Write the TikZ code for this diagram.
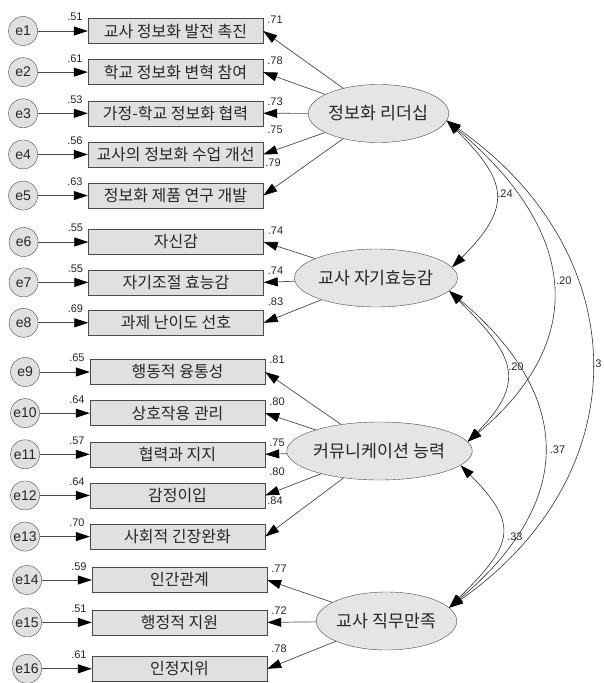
\documentclass[tikz,border=0pt]{standalone}
\usepackage{fontspec}
\setmainfont{Liberation Sans}
\newfontfamily\kr{Noto Sans CJK KR}
\usetikzlibrary{positioning, arrows.meta, shapes.geometric}
\definecolor{boxgray}{HTML}{E0E0E0}
\definecolor{linegray}{HTML}{4A4A4A}
\tikzset{
	>={Triangle[length=14pt,width=9pt,color=black]},
	every node/.style={text=black!85},
	obs/.style={draw=linegray, fill=boxgray, minimum width=175pt, minimum height=25pt, inner sep=0pt, font=\kr\fontsize{16}{18}\selectfont},
	lat/.style={ellipse, draw=linegray, fill=boxgray!85, minimum width=137pt, minimum height=58pt, inner sep=0pt, font=\kr\fontsize{17.3}{19}\selectfont},
	err/.style={circle, draw=linegray, fill=boxgray, minimum size=29pt, inner sep=0pt, font=\fontsize{14}{16}\selectfont},
	num/.style={inner sep=0pt, font=\fontsize{11}{12}\selectfont},
	load/.style={->, draw=linegray, line width=0.7pt},
	cov/.style={<->, draw=black!80, line width=0.6pt},
}

\begin{document}
\begin{tikzpicture}[x=1pt, y=-1pt]
	\useasboundingbox (0,0) rectangle (603,683);
	% observed variables
	\node[obs] (x1) at (175.5,31) {교사 정보화 발전 촉진};
	\node[obs, below=15.75pt of x1] (x2) {학교 정보화 변혁 참여};
	\node[obs, below=15.75pt of x2] (x3) {가정-학교 정보화 협력};
	\node[obs, below=15.75pt of x3] (x4) {교사의 정보화 수업 개선};
	\node[obs, below=15.75pt of x4] (x5) {정보화 제품 연구 개발};
	\node[obs] (x6) at (176,242) {자신감};
	\node[obs, below=15pt of x6] (x7) {자기조절 효능감};
	\node[obs, below=15pt of x7] (x8) {과제 난이도 선호};
	\node[obs] (x9) at (177.5,372) {행동적 융통성};
	\node[obs, below=15.75pt of x9] (x10) {상호작용 관리};
	\node[obs, below=15.75pt of x10] (x11) {협력과 지지};
	\node[obs, below=15.75pt of x11] (x12) {감정이입};
	\node[obs, below=15.75pt of x12] (x13) {사회적 긴장완화};
	\node[obs] (x14) at (179.5,580) {인간관계};
	\node[obs, below=17pt of x14] (x15) {행정적 지원};
	\node[obs, below=21pt of x15] (x16) {인정지위};
	
	% errors
	\node[err, left=50pt of x1] (e1) {e1};
	\node[err, left=50pt of x2] (e2) {e2};
	\node[err, left=50pt of x3] (e3) {e3};
	\node[err, left=50pt of x4] (e4) {e4};
	\node[err, left=50pt of x5] (e5) {e5};
	\node[err, left=50pt of x6] (e6) {e6};
	\node[err, left=50pt of x7] (e7) {e7};
	\node[err, left=50pt of x8] (e8) {e8};
	\node[err, left=50pt of x9] (e9) {e9};
	\node[err, left=50pt of x10] (e10) {e10};
	\node[err, left=50pt of x11] (e11) {e11};
	\node[err, left=50pt of x12] (e12) {e12};
	\node[err, left=50pt of x13] (e13) {e13};
	\node[err, left=50pt of x14] (e14) {e14};
	\node[err, left=50pt of x15] (e15) {e15};
	\node[err, left=50pt of x16] (e16) {e16};
	
	% latent variables
	\node[lat] (L1) at (378.5,113.5) {정보화 리더십};
	\node[lat] (L2) at (376,278) {교사 자기효능감};
	\node[lat] (L3) at (379.5,451) {커뮤니케이션 능력};
	\node[lat] (L4) at (386.5,621) {교사 직무만족};
	
	% squared multiple correlations
	\node[num, above left=-3pt and 5pt of x1.north west] (r1) {.51};
	\node[num, above left=-3pt and 5pt of x2.north west] (r2) {.61};
	\node[num, above left=-3pt and 5pt of x3.north west] (r3) {.53};
	\node[num, above left=-3pt and 5pt of x4.north west] (r4) {.56};
	\node[num, above left=-3pt and 5pt of x5.north west] (r5) {.63};
	\node[num, above left=-3pt and 5pt of x6.north west] (r6) {.55};
	\node[num, above left=-3pt and 5pt of x7.north west] (r7) {.55};
	\node[num, above left=-3pt and 5pt of x8.north west] (r8) {.69};
	\node[num, above left=-3pt and 5pt of x9.north west] (r9) {.65};
	\node[num, above left=-3pt and 5pt of x10.north west] (r10) {.64};
	\node[num, above left=-3pt and 5pt of x11.north west] (r11) {.57};
	\node[num, above left=-3pt and 5pt of x12.north west] (r12) {.64};
	\node[num, above left=-3pt and 5pt of x13.north west] (r13) {.70};
	\node[num, above left=-3pt and 5pt of x14.north west] (r14) {.59};
	\node[num, above left=-3pt and 5pt of x15.north west] (r15) {.51};
	\node[num, above left=-3pt and 5pt of x16.north west] (r16) {.61};
	
	% loadings
	\node[num, above right=-5pt and 4pt of x1.north east] (f1) {.71};
	\node[num, above right=-5pt and 4pt of x2.north east] (f2) {.78};
	\node[num, above right=-5pt and 4pt of x3.north east] (f3) {.73};
	\node[num, above right=8pt and 4pt of x4.north east] (f4) {.75};
	\node[num, above right=16.5pt and 2pt of x5.north east] (f5) {.79};
	\node[num, above right=-5pt and 4pt of x6.north east] (f6) {.74};
	\node[num, above right=-5pt and 4pt of x7.north east] (f7) {.74};
	\node[num, above right=4.5pt and 4pt of x8.north east] (f8) {.83};
	\node[num, above right=-5pt and 4pt of x9.north east] (f9) {.81};
	\node[num, above right=-5pt and 4pt of x10.north east] (f10) {.80};
	\node[num, above right=-5pt and 4pt of x11.north east] (f11) {.75};
	\node[num, above right=7pt and 4pt of x12.north east] (f12) {.80};
	\node[num, above right=19.5pt and 2pt of x13.north east] (f13) {.84};
	\node[num, above right=-5pt and 4pt of x14.north east] (f14) {.77};
	\node[num, above right=-5pt and 4pt of x15.north east] (f15) {.72};
	\node[num, above right=3.5pt and 4pt of x16.north east] (f16) {.78};
	
	\draw[load] (e1) -- (x1);
	\draw[load] (e2) -- (x2);
	\draw[load] (e3) -- (x3);
	\draw[load] (e4) -- (x4);
	\draw[load] (e5) -- (x5);
	\draw[load] (e6) -- (x6);
	\draw[load] (e7) -- (x7);
	\draw[load] (e8) -- (x8);
	\draw[load] (e9) -- (x9);
	\draw[load] (e10) -- (x10);
	\draw[load] (e11) -- (x11);
	\draw[load] (e12) -- (x12);
	\draw[load] (e13) -- (x13);
	\draw[load] (e14) -- (x14);
	\draw[load] (e15) -- (x15);
	\draw[load] (e16) -- (x16);
	
	\draw[load] (L1) -- (x1.east);
	\draw[load] (L1) -- (x2.east);
	\draw[load] (L1) -- (x3.east);
	\draw[load] (L1) -- (x4.east);
	\draw[load] (L1) -- (x5.east);
	\draw[load] (L2) -- (x6.east);
	\draw[load] (L2) -- (x7.east);
	\draw[load] (L2) -- (x8.east);
	\draw[load] (L3) -- (x9.east);
	\draw[load] (L3) -- (x10.east);
	\draw[load] (L3) -- (x11.east);
	\draw[load] (L3) -- (x12.east);
	\draw[load] (L3) -- (x13.east);
	\draw[load] (L4) -- (x14.east);
	\draw[load] (L4) -- (x15.east);
	\draw[load] (L4) -- (x16.east);
	
	% correlations
	\draw[cov] (L1.-6) to[out=-45, in=45, looseness=1.5] node[num, right=2pt] (c12) {.24} (L2.8);
	\draw[cov] (L2.-10) to[out=-45, in=45, looseness=1.48] node[num, right=3pt] (c23) {.20} (L3.6);
	\draw[cov] (L3.-10) to[out=-45, in=45, looseness=1.56] node[num, right=6pt] (c34) {.33} (L4.12);
	\draw[cov] (L1.-6) to[out=-40, in=40, looseness=1.31] node[num, right=4pt] (c13) {.20} (L3.6);
	\draw[cov] (L2.-10) to[out=-40, in=40, looseness=1.33] node[num, right=6pt] (c24) {.37} (L4.12);
	\draw[cov] (L1.-6) to[out=-35, in=35, looseness=1.22] node[num, right=1pt] (c14) {.3} (L4.12);
\end{tikzpicture}
\end{document}
